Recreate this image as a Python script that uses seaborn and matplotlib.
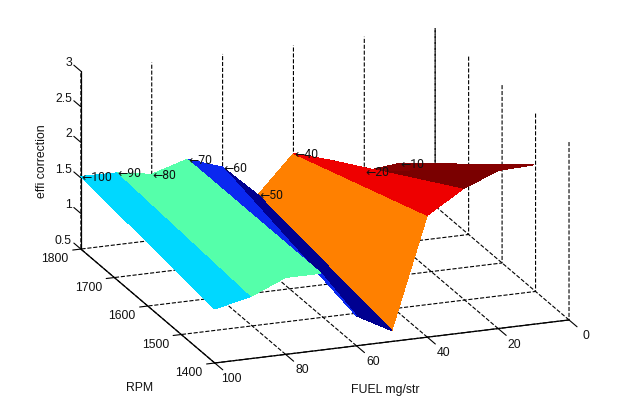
import numpy as np
import matplotlib
matplotlib.use("Agg")
import matplotlib.pyplot as plt
from mpl_toolkits.mplot3d import proj3d
import seaborn as sns

# surface values
fuel = [100, 90, 80, 70, 60, 50, 40, 30, 20, 10]
rpm = [1400, 1800]
effi_1400 = [1.26, 1.37, 1.58, 1.58, 0.92, 0.65, 2.21, 2.52, 2.72, 2.74]
effi_1800 = [1.52, 1.51, 1.43, 1.58, 1.41, 0.96, 1.48, 1.33, 1.11, 1.16]
label_z = [1.52, 1.51, 1.43, 1.58, 1.41, 0.96, 1.48, 1.07, 1.11, 1.16]

band_colors = ["#00D8FF", "#55FFAA", "#55FFAA", "#0A28F0", "#000090",
               "#FF8000", "#EE0000", "#7A0000", "#850000"]

fuel_ticks = [0, 20, 40, 60, 80, 100]
rpm_ticks = [1400, 1500, 1600, 1700, 1800]
effi_ticks = [0.5, 1, 1.5, 2, 2.5, 3]
effi_ticklabels = ["0.5", "1", "1.5", "2", "2.5", "3"]

sns.set_theme(style="ticks", rc={"grid.color": "black", "grid.linestyle": "--",
                                 "grid.linewidth": 0.8, "axes.linewidth": 0.8})
plt.rcParams["font.family"] = ["Liberation Sans", "DejaVu Sans"]
TXT = "#111111"
FS = 8.8

W, H = 630, 410
fig = plt.figure(figsize=(W / 100, H / 100), dpi=100, facecolor="white")
ax = fig.add_axes([42 / W, -69.5 / H, 551 / W, 551 / H], projection="3d",
                  proj_type="ortho", computed_zorder=False)
ax.view_init(elev=18.76, azim=249.3)
ax.set_box_aspect((379, 379, 188), zoom=1)
ax.set_xlim(100, 0, view_margin=0)
ax.set_ylim(1400, 1800, view_margin=0)
ax.set_zlim(0.5, 3, view_margin=0)
ax.grid(True)

F, R = np.meshgrid(fuel, rpm)
Z = np.array([effi_1400, effi_1800])
face = np.array(sns.color_palette(band_colors)).reshape(1, len(band_colors), 3)
ax.plot_surface(F, R, Z, facecolors=face, rstride=1, cstride=1, shade=False,
                linewidth=0, antialiased=False, zorder=3)


def put_text(x, y, z, s, dx=0, dy=0, ha="center", zorder=6, family=None):
    # 3d point -> 2d axes data, then a pixel offset (dy is downwards)
    x2, y2, _ = proj3d.proj_transform(x, y, z, ax.get_proj())
    ax.annotate(s, xy=(x2, y2), xytext=(dx, -dy), textcoords="offset pixels",
                ha=ha, va="center", fontsize=FS, color=TXT, family=family,
                annotation_clip=False, zorder=zorder)


# the hidden label sits under the surface, the others on top
for f, z in zip(fuel, label_z):
    put_text(f, 1800, z, "\u2190" + str(f), dx=1, ha="left", zorder=2 if f == 30 else 5,
             family=["Roboto", "DejaVu Sans"])

for axis in (ax.xaxis, ax.yaxis, ax.zaxis):
    axis.set_pane_color((1, 1, 1, 0))
    axis.pane.set_edgecolor((1, 1, 1, 0))
    axis._axinfo["tick"]["inward_factor"] = 0
    axis._axinfo["tick"]["outward_factor"] = 0
    axis.line.set_color("black")
    axis.line.set_linewidth(0.9)
ax.zaxis._axinfo["grid"]["linewidth"] = 0

ax.set_xticks(fuel_ticks, [""] * len(fuel_ticks))
ax.set_yticks(rpm_ticks, [""] * len(rpm_ticks))
ax.set_zticks(effi_ticks, [""] * len(effi_ticks))

# tick marks and labels by hand, mplot3d puts them on the wrong side here
tick_kw = dict(color="black", linewidth=0.8, zorder=1)
for f in fuel_ticks:
    ax.plot([f, f], [1400, 1376], [0.5, 0.5], **tick_kw)
    put_text(f, 1400, 0.5, str(f), dx=16.5, dy=15)
for r in rpm_ticks:
    ax.plot([100, 102.3], [r, r], [0.5, 0.5], **tick_kw)
    put_text(100, r, 0.5, str(r), dx=-26, dy=9)
for v, s in zip(effi_ticks, effi_ticklabels):
    ax.plot([100, 100], [1800, 1821], [v, v], **tick_kw)
    put_text(100, 1800, v, s, dx=-9, dy=-9, ha="right")

fig.text(140 / W, 1 - 388 / H, "RPM", fontsize=FS, ha="center", va="center", color=TXT)
fig.text(385 / W, 1 - 390 / H, "FUEL mg/str", fontsize=FS, ha="center", va="center", color=TXT)
fig.text(42 / W, 1 - 161 / H, "effi correction", fontsize=FS, rotation=90,
         ha="center", va="center", color=TXT)

fig.savefig("out.png", dpi=100, facecolor="white")
